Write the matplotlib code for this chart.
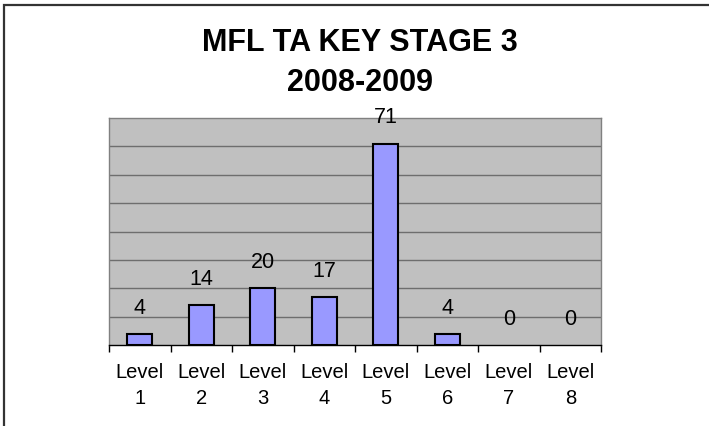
import matplotlib
matplotlib.use("Agg")
import matplotlib.pyplot as plt
from matplotlib.patches import Rectangle

# --- [ MFL teacher assessment, key stage 3, bar chart ] ---

TITLE = "MFL TA KEY STAGE 3\n2008-2009"
CATEGORIES = ["Level\n1", "Level\n2", "Level\n3", "Level\n4",
              "Level\n5", "Level\n6", "Level\n7", "Level\n8"]
VALUES = [4, 14, 20, 17, 71, 4, 0, 0]

Y_MAX = 80
Y_STEP = 10

# figure config
WIDTH_PX, HEIGHT_PX, DPI = 709, 426, 100
PLOT_BOX_PX = (109, 118, 601, 345)   # left, top, right, bottom
BAR_COLOR = "#9999FF"
PLOT_BG = "#C0C0C0"
GRID_COLOR = "#6E6E6E"
LABEL_SIZE = 14.5

plt.rcParams["font.family"] = ["Liberation Sans", "DejaVu Sans"]


def px_to_fig(box):
    left, top, right, bottom = box
    return [left / WIDTH_PX, 1 - bottom / HEIGHT_PX,
            (right - left) / WIDTH_PX, (bottom - top) / HEIGHT_PX]


fig = plt.figure(figsize=(WIDTH_PX / DPI, HEIGHT_PX / DPI), dpi=DPI)
ax = fig.add_axes(px_to_fig(PLOT_BOX_PX))

positions = list(range(len(CATEGORIES)))
edge_widths = [1.5 if v > 0 else 0 for v in VALUES]
ax.bar(positions, VALUES, width=0.4, color=BAR_COLOR,
       edgecolor="black", linewidth=edge_widths, zorder=3)

for x, v in zip(positions, VALUES):
    ax.annotate(str(v), (x, v), xytext=(0, 14.5), textcoords="offset points",
                ha="center", va="baseline", fontsize=LABEL_SIZE + 1,
                zorder=4)

ax.set_xlim(-0.5, len(CATEGORIES) - 0.5)
ax.set_ylim(0, Y_MAX)
ax.set_facecolor(PLOT_BG)

for y in range(Y_STEP, Y_MAX, Y_STEP):
    ax.axhline(y, color=GRID_COLOR, linewidth=1.0, zorder=1)

ax.set_yticks([])
ax.set_xticks([p - 0.5 for p in positions] + [positions[-1] + 0.5])
ax.set_xticklabels([])
ax.tick_params(axis="x", which="major", length=5, width=1, direction="out")
ax.set_xticks(positions, minor=True)
ax.set_xticklabels(CATEGORIES, minor=True, fontsize=LABEL_SIZE,
                   linespacing=1.45)
ax.tick_params(axis="x", which="minor", length=0, pad=13)

for side in ("left", "top", "right"):
    ax.spines[side].set_color("#808080")
    ax.spines[side].set_linewidth(1.0)
ax.spines["bottom"].set_color("black")
ax.spines["bottom"].set_linewidth(1.0)

fig.text(360 / WIDTH_PX, 1 - 63 / HEIGHT_PX, TITLE, ha="center", va="center",
         fontsize=22, fontweight="bold", linespacing=1.45)

# chart frame, cut off on the right and bottom like the source
fig.patches.append(Rectangle((4 / WIDTH_PX, -0.2), 1.5, 1.2 - 5 / HEIGHT_PX,
                             transform=fig.transFigure, fill=False,
                             edgecolor="#333333", linewidth=1.6))

fig.savefig("out.png", dpi=DPI)
